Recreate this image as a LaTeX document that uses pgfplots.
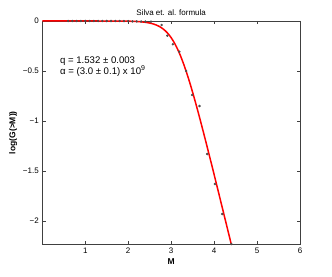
\documentclass[border=0pt]{standalone}
\usepackage{pgfplots}
\pgfplotsset{compat=1.18}
\usepackage{fontspec}
\setmainfont{Liberation Sans}
\begin{document}
\begin{tikzpicture}
\begin{axis}[
  scale only axis,
  width=257.7pt, height=223.3pt,
  xmin=0, xmax=6, ymin=-2.233, ymax=0,
  xtick={1,2,3,4,5,6},
  ytick={-2,-1.5,-1,-0.5,0},
  yticklabels={−2,−1.5,−1,−0.5,0},
  xticklabels={1,2,3,4,5,6},
  tick align=inside,
  major tick length=3.5pt,
  tick style={black!75, line width=0.5pt},
  axis line style={black!75, line width=0.6pt},
  ticklabel style={font=\fontsize{8}{9}\selectfont},
  title={Silva et. al. formula},
  title style={font=\fontsize{8}{9}\selectfont, yshift=-4pt},
  xlabel={\textbf{M}},
  ylabel={\textbf{log(G(>M))}},
  label style={font=\fontsize{8.5}{9}\selectfont},
  xlabel style={yshift=2pt},
  ylabel style={yshift=-1pt},
  clip=true,
]
\addplot[only marks, mark=*, mark size=1.0pt, color=black!70] coordinates {
(0.6,0) (0.7,0) (0.8,0) (0.9,0) (1.0,0) (1.1,0) (1.2,0) (1.3,0) (1.4,0)
(1.5,0) (1.6,0) (1.7,0) (1.8,0) (1.9,-0.001) (2.0,-0.002) (2.1,-0.003)
(2.2,-0.004) (2.3,-0.005) (2.4,-0.006) (2.53,-0.007)
(2.78,-0.04) (2.91,-0.147) (3.04,-0.233) (3.19,-0.307) (3.35,-0.5)
(3.49,-0.74) (3.66,-0.85) (3.84,-1.33) (4.02,-1.63) (4.19,-1.93) (4.40,-2.23)
};
\addplot[red, line width=1.5pt, smooth] coordinates {
(0,0) (1.0,0) (1.5,-0.0002) (2.0,-0.0021) (2.1,-0.0033) (2.2,-0.0052)
(2.3,-0.0082) (2.4,-0.0130) (2.5,-0.0203) (2.6,-0.0318) (2.7,-0.0492)
(2.8,-0.0752) (2.9,-0.1132) (3.0,-0.1666) (3.1,-0.2384) (3.2,-0.330)
(3.3,-0.4415) (3.4,-0.570) (3.5,-0.7130) (3.6,-0.8666) (3.7,-1.0277)
(3.8,-1.194) (3.9,-1.3635) (4.0,-1.535) (4.1,-1.7089) (4.2,-1.883)
(4.3,-2.0581) (4.4,-2.233)
};
\node[anchor=west, font=\fontsize{9.6}{10}\selectfont, inner sep=0pt] at (axis cs:0.41,-0.397) {q = 1.532 ± 0.003};
\node[anchor=west, font=\fontsize{9.6}{10}\selectfont, inner sep=0pt] at (axis cs:0.41,-0.50) {α = (3.0 ± 0.1) x 10\raisebox{0.8ex}{\fontsize{7}{7}\selectfont 9}};
\coordinate (ll) at (rel axis cs:0,0);
\coordinate (ur) at (rel axis cs:1,1);
\end{axis}
\path ([shift={(-42.3pt,-31.7pt)}]ll) rectangle ([shift={(32pt,21pt)}]ur);
\end{tikzpicture}
\end{document}
